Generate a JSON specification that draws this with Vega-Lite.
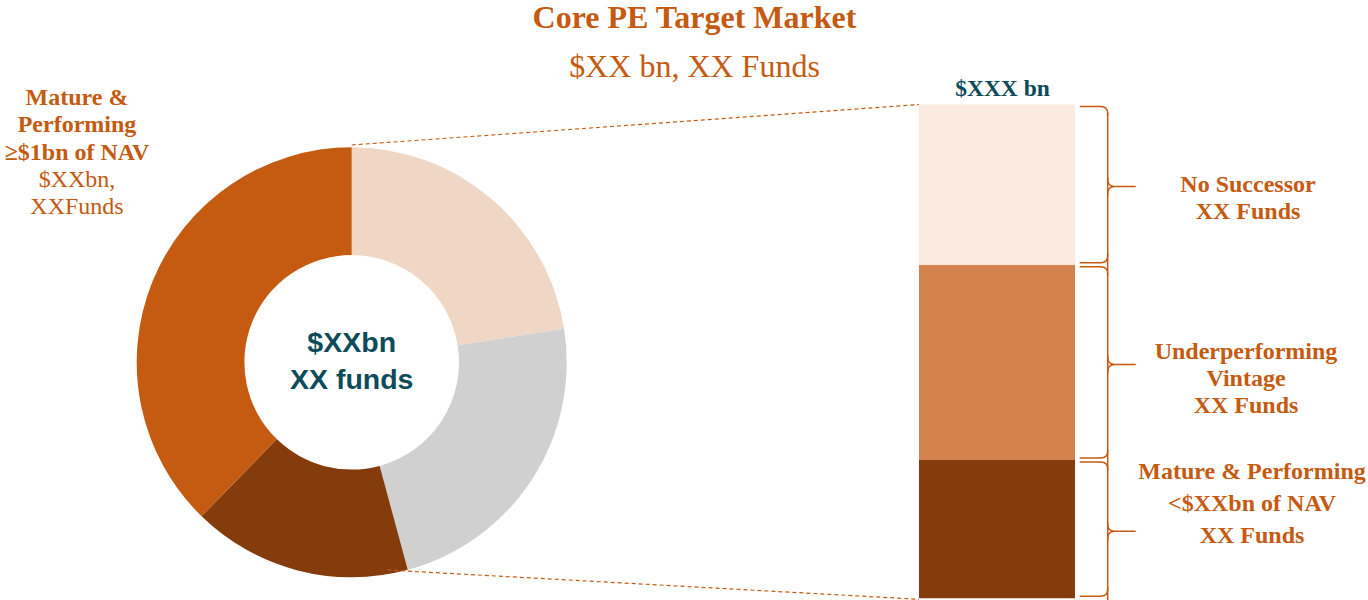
{
  "$schema": "https://vega.github.io/schema/vega-lite/v6.json",
  "width": 1368,
  "height": 600,
  "padding": 0,
  "autosize": {"type": "none"},
  "background": "white",
  "config": {"view": {"stroke": null}},
  "title": {
    "text": "Core PE Target Market",
    "subtitle": "$XX bn, XX Funds",
    "anchor": "middle",
    "frame": "group",
    "orient": "top",
    "offset": -84.3,
    "dx": 10.5,
    "font": "Liberation Serif",
    "fontSize": 32,
    "fontWeight": "bold",
    "color": "#C55A11",
    "subtitleFont": "Liberation Serif",
    "subtitleFontSize": 32,
    "subtitleFontWeight": "normal",
    "subtitleColor": "#C55A11",
    "subtitlePadding": 17
  },
  "datasets": {
    "market": [
      {"panel": "Core PE", "segment": "Segment A", "value": 22.5, "order": 1},
      {"panel": "Core PE", "segment": "Segment B", "value": 23.3, "order": 2},
      {"panel": "Core PE", "segment": "Mature & Performing <$1bn of NAV", "value": 16.5, "order": 3},
      {"panel": "Core PE", "segment": "Mature & Performing ≥$1bn of NAV", "value": 37.7, "order": 4}
    ],
    "breakdown": [
      {"panel": "Breakdown", "segment": "Mature & Performing <$XXbn of NAV", "value": 28.0, "order": 1, "label": "Mature & Performing\n<$XXbn of NAV\nXX Funds", "total_label": "$XXX bn"},
      {"panel": "Breakdown", "segment": "Underperforming Vintage", "value": 39.55, "order": 2, "label": "Underperforming\nVintage\nXX Funds", "total_label": "$XXX bn"},
      {"panel": "Breakdown", "segment": "No Successor", "value": 32.45, "order": 3, "label": "No Successor\nXX Funds", "total_label": "$XXX bn"}
    ],
    "callouts": [
      {"panel": "Core PE", "center": "$XXbn\nXX funds", "heading": "Mature &\nPerforming\n≥$1bn of NAV", "detail": "$XXbn,\nXXFunds"}
    ]
  },
  "encoding": {
    "x": {"field": "panel", "type": "nominal", "scale": {"type": "point", "domain": ["Core PE", "Breakdown"], "range": [351.7, 997], "padding": 0}, "axis": null}
  },
  "resolve": {"scale": {"y": "independent", "color": "independent"}},
  "layer": [
    {
      "data": {"name": "market"},
      "mark": {"type": "arc", "outerRadius": 215, "innerRadius": 107.3},
      "encoding": {
        "y": {"field": "panel", "type": "nominal", "scale": {"type": "point", "range": [362.3, 362.3]}, "axis": null},
        "theta": {"field": "value", "type": "quantitative", "stack": "zero", "scale": {"nice": false, "zero": true}},
        "order": {"field": "order", "type": "quantitative"},
        "color": {"field": "segment", "type": "nominal", "legend": null,
          "scale": {"domain": ["Segment A", "Segment B", "Mature & Performing <$1bn of NAV", "Mature & Performing ≥$1bn of NAV"], "range": ["#F0D6C4", "#D0D0D0", "#843C0C", "#C55A11"]}}
      }
    },
    {
      "data": {"name": "callouts"},
      "mark": {"type": "text", "font": "Liberation Sans", "fontWeight": "bold", "fontSize": 28.5, "color": "#0E4B5A", "align": "center", "baseline": "middle", "lineBreak": "\n", "lineHeight": 37, "dy": -19.3},
      "encoding": {
        "y": {"field": "panel", "type": "nominal", "scale": {"type": "point", "range": [362.3, 362.3]}, "axis": null},
        "text": {"field": "center"}
      }
    },
    {
      "data": {"name": "callouts"},
      "mark": {"type": "text", "font": "Liberation Serif", "fontWeight": "bold", "fontSize": 24, "color": "#C55A11", "align": "center", "baseline": "middle", "lineBreak": "\n", "lineHeight": 27.3, "dx": -274.7, "dy": -264.3},
      "encoding": {
        "y": {"field": "panel", "type": "nominal", "scale": {"type": "point", "range": [362.3, 362.3]}, "axis": null},
        "text": {"field": "heading"}
      }
    },
    {
      "data": {"name": "callouts"},
      "mark": {"type": "text", "font": "Liberation Serif", "fontWeight": "normal", "fontSize": 24, "color": "#C55A11", "align": "center", "baseline": "middle", "lineBreak": "\n", "lineHeight": 27.3, "dx": -274.7, "dy": -182.3},
      "encoding": {
        "y": {"field": "panel", "type": "nominal", "scale": {"type": "point", "range": [362.3, 362.3]}, "axis": null},
        "text": {"field": "detail"}
      }
    },
    {
      "data": {"name": "breakdown"},
      "transform": [{"aggregate": [{"op": "sum", "field": "value", "as": "total"}], "groupby": ["panel"]}],
      "mark": {"type": "rule", "color": "#C55A11", "strokeWidth": 1.2, "strokeDash": [4, 3], "yOffset": 40.5, "x2Offset": -78},
      "encoding": {
        "x": {"datum": "Core PE", "type": "nominal", "scale": {"type": "point", "domain": ["Core PE", "Breakdown"], "range": [351.7, 997], "padding": 0}, "axis": null},
        "x2": {"datum": "Breakdown"},
        "y": {"field": "total", "type": "quantitative", "scale": {"domain": [0, 100], "range": [598.3, 104.5], "nice": false, "zero": true}, "axis": null},
        "y2": {"field": "total"}
      }
    },
    {
      "data": {"name": "breakdown"},
      "transform": [{"aggregate": [{"op": "sum", "field": "value", "as": "total"}], "groupby": ["panel"]}],
      "mark": {"type": "rule", "color": "#C55A11", "strokeWidth": 1.2, "strokeDash": [4, 3], "xOffset": 35.3, "yOffset": -28.3, "x2Offset": -78, "y2Offset": 1},
      "encoding": {
        "x": {"datum": "Core PE", "type": "nominal", "scale": {"type": "point", "domain": ["Core PE", "Breakdown"], "range": [351.7, 997], "padding": 0}, "axis": null},
        "x2": {"datum": "Breakdown"},
        "y": {"datum": 0, "type": "quantitative", "scale": {"domain": [0, 100], "range": [598.3, 104.5], "nice": false, "zero": true}, "axis": null},
        "y2": {"datum": 0}
      }
    },
    {
      "data": {"name": "breakdown"},
      "mark": {"type": "bar", "width": 156},
      "encoding": {
        "y": {"field": "value", "type": "quantitative", "stack": "zero", "scale": {"domain": [0, 100], "range": [598.3, 104.5], "nice": false, "zero": true}, "axis": null},
        "order": {"field": "order", "type": "quantitative"},
        "color": {"field": "segment", "type": "nominal", "legend": null,
          "scale": {"domain": ["Mature & Performing <$XXbn of NAV", "Underperforming Vintage", "No Successor"], "range": ["#843C0C", "#D4834E", "#FBEAE0"]}}
      }
    },
    {
      "data": {"name": "breakdown"},
      "mark": {"type": "bar", "width": 1.5, "color": "#C55A11", "xOffset": 110.7, "yOffset": 8, "y2Offset": -8},
      "encoding": {
        "y": {"field": "value", "type": "quantitative", "stack": "zero", "scale": {"domain": [0, 100], "range": [598.3, 104.5], "nice": false, "zero": true}, "axis": null},
        "order": {"field": "order", "type": "quantitative"},
        "detail": {"field": "segment"}
      }
    },
    {
      "data": {"name": "breakdown"},
      "mark": {"type": "point", "shape": "M-28,0 L-7,0 Q0,0 0,7 L0,9", "size": 4, "filled": false, "opacity": 1, "stroke": "#C55A11", "strokeWidth": 1.5, "xOffset": 110.7, "yOffset": 2},
      "encoding": {
        "y": {"field": "value", "type": "quantitative", "stack": "zero", "bandPosition": 1, "scale": {"domain": [0, 100], "range": [598.3, 104.5], "nice": false, "zero": true}, "axis": null},
        "order": {"field": "order", "type": "quantitative"},
        "detail": {"field": "segment"}
      }
    },
    {
      "data": {"name": "breakdown"},
      "mark": {"type": "point", "shape": "M-28,0 L-7,0 Q0,0 0,-7 L0,-9", "size": 4, "filled": false, "opacity": 1, "stroke": "#C55A11", "strokeWidth": 1.5, "xOffset": 110.7, "yOffset": -2},
      "encoding": {
        "y": {"field": "value", "type": "quantitative", "stack": "zero", "bandPosition": 0, "scale": {"domain": [0, 100], "range": [598.3, 104.5], "nice": false, "zero": true}, "axis": null},
        "order": {"field": "order", "type": "quantitative"},
        "detail": {"field": "segment"}
      }
    },
    {
      "data": {"name": "breakdown"},
      "mark": {"type": "point", "shape": "M0,-9 L0,-7 Q0,0 7,0 L28,0 M0,9 L0,7 Q0,0 7,0", "size": 4, "filled": false, "opacity": 1, "stroke": "#C55A11", "strokeWidth": 1.5, "xOffset": 110.7, "yOffset": 2},
      "encoding": {
        "y": {"field": "value", "type": "quantitative", "stack": "zero", "bandPosition": 0.5, "scale": {"domain": [0, 100], "range": [598.3, 104.5], "nice": false, "zero": true}, "axis": null},
        "order": {"field": "order", "type": "quantitative"},
        "detail": {"field": "segment"}
      }
    },
    {
      "data": {"name": "breakdown"},
      "mark": {"type": "text", "font": "Liberation Serif", "fontWeight": "bold", "fontSize": 24, "color": "#C55A11", "align": "center", "baseline": "middle", "lineBreak": "\n", "lineHeight": 27, "dx": 251, "dy": 0.4},
      "encoding": {
        "y": {"field": "value", "type": "quantitative", "stack": "zero", "bandPosition": 0.5, "scale": {"domain": [0, 100], "range": [598.3, 104.5], "nice": false, "zero": true}, "axis": null},
        "order": {"field": "order", "type": "quantitative"},
        "detail": {"field": "segment"},
        "text": {"condition": {"test": "datum.order == 3", "field": "label"}, "value": ""}
      }
    },
    {
      "data": {"name": "breakdown"},
      "mark": {"type": "text", "font": "Liberation Serif", "fontWeight": "bold", "fontSize": 24, "color": "#C55A11", "align": "center", "baseline": "middle", "lineBreak": "\n", "lineHeight": 27, "dx": 249, "dy": -10.4},
      "encoding": {
        "y": {"field": "value", "type": "quantitative", "stack": "zero", "bandPosition": 0.5, "scale": {"domain": [0, 100], "range": [598.3, 104.5], "nice": false, "zero": true}, "axis": null},
        "order": {"field": "order", "type": "quantitative"},
        "detail": {"field": "segment"},
        "text": {"condition": {"test": "datum.order == 2", "field": "label"}, "value": ""}
      }
    },
    {
      "data": {"name": "breakdown"},
      "mark": {"type": "text", "font": "Liberation Serif", "fontWeight": "bold", "fontSize": 24, "color": "#C55A11", "align": "center", "baseline": "middle", "lineBreak": "\n", "lineHeight": 32, "dx": 255, "dy": -57},
      "encoding": {
        "y": {"field": "value", "type": "quantitative", "stack": "zero", "bandPosition": 0.5, "scale": {"domain": [0, 100], "range": [598.3, 104.5], "nice": false, "zero": true}, "axis": null},
        "order": {"field": "order", "type": "quantitative"},
        "detail": {"field": "segment"},
        "text": {"condition": {"test": "datum.order == 1", "field": "label"}, "value": ""}
      }
    },
    {
      "data": {"name": "breakdown"},
      "transform": [{"aggregate": [{"op": "sum", "field": "value", "as": "total"}], "groupby": ["panel", "total_label"]}],
      "mark": {"type": "text", "font": "Liberation Serif", "fontWeight": "bold", "fontSize": 23.5, "color": "#0E4B5A", "align": "center", "baseline": "alphabetic", "dx": 5.5, "dy": -8.5},
      "encoding": {
        "y": {"field": "total", "type": "quantitative", "scale": {"domain": [0, 100], "range": [598.3, 104.5], "nice": false, "zero": true}, "axis": null},
        "text": {"field": "total_label"}
      }
    }
  ]
}
